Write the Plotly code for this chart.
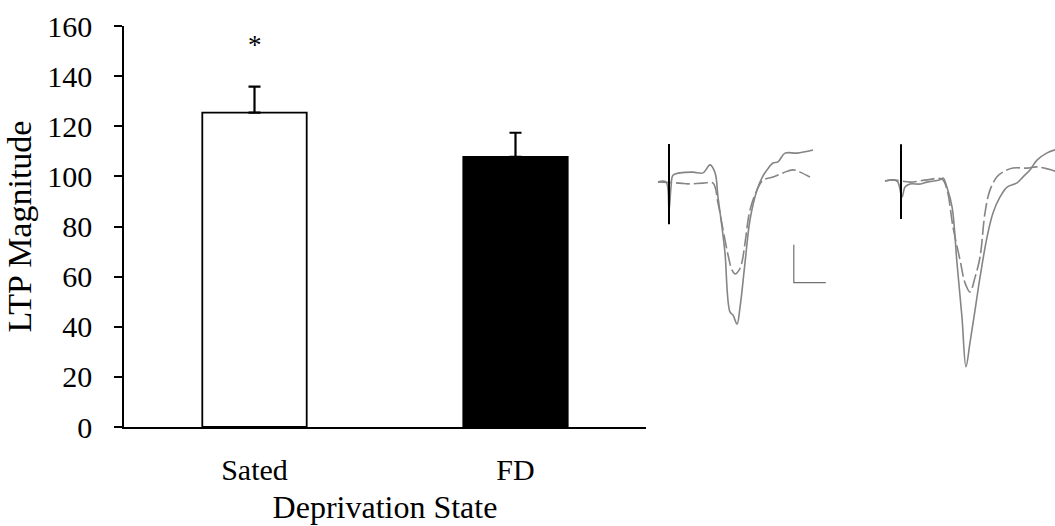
import plotly.graph_objects as go

# ---------------- data ----------------
categories = ["Sated", "FD"]
ltp_mean = [125.4, 107.8]
ltp_sem = [10.4, 9.6]
bar_colors = ["white", "black"]
y_ticks = [0, 20, 40, 60, 80, 100, 120, 140, 160]
signif_y = 152.5

# representative fEPSP traces (time in ms, amplitude in mV)
sated_post_t = [-0.69, -0.19, 0.0, 0.13, 0.25, 0.69, 1.5, 2.13, 2.56, 2.88, 3.06, 3.31, 3.5, 3.81, 4.0, 4.25,
                4.44, 4.75, 5.06, 5.5, 5.81, 6.13, 6.5, 6.81, 7.25, 8.0, 9.0]
sated_post_v = [0.0, 0.0, -0.74, -0.11, 0.18, 0.24, 0.26, 0.24, 0.45, 0.24, -0.39, -1.18, -1.87, -3.42, -3.5, -3.74,
                -3.29, -2.13, -1.0, -0.21, 0.11, 0.32, 0.5, 0.53, 0.76, 0.76, 0.84]
sated_base_t = [-0.69, 0.69, 1.19, 2.13, 2.75, 3.06, 3.38, 3.69, 3.94, 4.13, 4.38, 4.56, 4.75, 5.06, 5.5,
                5.88, 6.5, 7.13, 7.75, 8.19, 8.81]
sated_base_v = [0.0, -0.03, -0.05, -0.03, -0.03, -0.55, -1.26, -1.92, -2.32, -2.42, -2.32, -2.11, -1.61, -0.74, -0.21,
                0.05, 0.13, 0.24, 0.32, 0.26, 0.13]
sated_artifact_t = [0.0, 0.0]
sated_artifact_v = [1.0, -1.11]

fd_post_t = [-1.0, -0.25, 0.06, 0.25, 0.56, 1.19, 1.63, 2.44, 2.63, 2.88, 3.19, 3.5, 3.81, 4.06, 4.31, 4.63,
             4.94, 5.38, 5.75, 6.19, 6.63, 7.25, 7.63, 8.06, 8.5, 9.13, 9.63]
fd_post_v = [0.0, 0.0, -0.42, -0.16, -0.08, -0.08, -0.03, 0.03, 0.08, -0.18, -0.68, -2.16, -3.58, -4.89, -4.26, -3.39,
             -2.53, -1.47, -0.84, -0.42, -0.16, -0.05, 0.11, 0.29, 0.55, 0.74, 0.82]
fd_base_t = [-1.0, -0.5, 0.56, 1.63, 2.56, 2.88, 3.25, 3.69, 4.0, 4.31, 4.63, 4.94, 5.25, 5.56, 6.0, 6.38,
             7.0, 7.88, 8.5, 9.63]
fd_base_v = [0.0, 0.03, -0.03, 0.03, 0.05, -0.24, -1.21, -2.08, -2.68, -2.92, -2.53, -2.0, -0.84, -0.24, 0.11, 0.24,
             0.34, 0.34, 0.37, 0.26]
fd_artifact_t = [0.0, 0.0]
fd_artifact_v = [0.97, -1.0]

# calibration bar: 2 ms / 1 mV
scale_t = [7.8, 7.8, 9.8]
scale_v = [-1.65, -2.65, -2.65]

# ---------------- layout constants ----------------
W, H = 1055, 526
TOP, BOTTOM = 26, 427
PX_PER_MS = 16.0
PX_PER_MV = 38.0
FONT = "Liberation Serif, Times New Roman, serif"
TRACE_GRAY = "#858585"


def trace_axes(px_left, px_right, px_origin, px_baseline):
    xr = [(px_left - px_origin) / PX_PER_MS, (px_right - px_origin) / PX_PER_MS]
    yr = [(px_baseline - BOTTOM) / PX_PER_MV, (px_baseline - TOP) / PX_PER_MV]
    return [px_left / W, px_right / W], xr, yr


dom2, xr2, yr2 = trace_axes(650, 830, 669, 182)
dom3, xr3, yr3 = trace_axes(880, 1055, 901, 181)

fig = go.Figure()

fig.add_trace(go.Bar(
    x=categories, y=ltp_mean, width=0.4,
    marker=dict(color=bar_colors, line=dict(color="black", width=1.8)),
    error_y=dict(type="data", array=ltp_sem, arrayminus=[0, 0], symmetric=False,
                 color="black", thickness=2.2, width=6),
    showlegend=False, xaxis="x", yaxis="y",
))

line_post = dict(color=TRACE_GRAY, width=1.6)
line_base = dict(color=TRACE_GRAY, width=1.6, dash="14px,4px")

for (pt, pv, bt, bv, at, av, xa, ya) in [
    (sated_post_t, sated_post_v, sated_base_t, sated_base_v, sated_artifact_t, sated_artifact_v, "x2", "y2"),
    (fd_post_t, fd_post_v, fd_base_t, fd_base_v, fd_artifact_t, fd_artifact_v, "x3", "y3"),
]:
    fig.add_trace(go.Scatter(x=bt, y=bv, mode="lines", line=line_base, line_shape="spline",
                             showlegend=False, xaxis=xa, yaxis=ya, cliponaxis=False))
    fig.add_trace(go.Scatter(x=pt, y=pv, mode="lines", line=line_post, line_shape="spline",
                             showlegend=False, xaxis=xa, yaxis=ya, cliponaxis=False))
    fig.add_trace(go.Scatter(x=at, y=av, mode="lines", line=dict(color="black", width=2),
                             showlegend=False, xaxis=xa, yaxis=ya, cliponaxis=False))

fig.add_trace(go.Scatter(x=scale_t, y=scale_v, mode="lines", line=dict(color="#707070", width=1.2),
                         showlegend=False, xaxis="x2", yaxis="y2", cliponaxis=False))

fig.add_annotation(x=categories[0], y=signif_y, xref="x", yref="y", text="*", showarrow=False,
                   font=dict(family=FONT, size=27, color="black"))

fig.update_layout(
    width=W, height=H,
    margin=dict(l=0, r=0, t=TOP, b=H - BOTTOM),
    paper_bgcolor="white", plot_bgcolor="white",
    font=dict(family=FONT, size=30, color="black"),
    xaxis=dict(domain=[124 / W, 646 / W], showline=True, linecolor="black", linewidth=1.5,
               ticks="", showgrid=False, zeroline=False, ticklabelstandoff=15,
               title=dict(text="Deprivation State", font=dict(size=32), standoff=11),
               tickfont=dict(size=30), anchor="y"),
    yaxis=dict(range=[0, 160], tickvals=y_ticks, showline=True, linecolor="black", linewidth=1.5,
               ticks="outside", ticklen=8, tickwidth=1.5, tickcolor="black",
               showgrid=False, zeroline=False, ticklabelstandoff=16,
               title=dict(text="LTP Magnitude", font=dict(size=34), standoff=5),
               tickfont=dict(size=30), anchor="x"),
    xaxis2=dict(domain=dom2, range=xr2, visible=False, anchor="y2"),
    yaxis2=dict(domain=[0, 1], range=yr2, visible=False, anchor="x2"),
    xaxis3=dict(domain=dom3, range=xr3, visible=False, anchor="y3"),
    yaxis3=dict(domain=[0, 1], range=yr3, visible=False, anchor="x3"),
)

fig.write_html("out.html")
